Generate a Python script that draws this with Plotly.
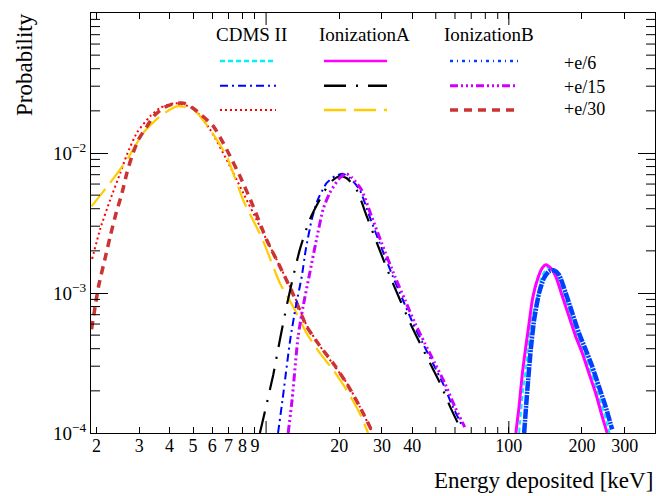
import numpy as np
import plotly.graph_objects as go

FONT = "Liberation Serif"

# ---------------- data: energy deposited [keV] vs probability ----------------
# CDMS II
cdms_e6_E = [110.2, 113.7, 118.7, 123.1, 131.6, 135.8, 144.1, 150.6, 157.9, 168.7, 179.8, 191.3, 203.8, 217.2, 231.2, 246.4, 259.9]
cdms_e6_P = [1.0e-4, 1.82e-4, 3.34e-4, 6.11e-4, 9.46e-4, 1.285e-3, 1.51e-3, 1.49e-3, 1.33e-3, 9.57e-4, 6.89e-4, 4.95e-4, 3.73e-4, 2.79e-4, 2.0e-4, 1.40e-4, 1.0e-4]

cdms_e15_E = [11.2, 11.69, 12.57, 13.26, 14.03, 14.57, 15.42, 16.32, 17.77, 19.17, 20.68, 22.08, 24.28, 26.69, 29.34, 33.27, 36.57, 40.2, 44.18, 48.57, 53.39, 58.68, 64.5]
cdms_e15_P = [1.0e-4, 1.73e-4, 4.63e-4, 8.02e-4, 1.315e-3, 2.04e-3, 3.34e-3, 4.63e-3, 6.11e-3, 6.81e-3, 7.11e-3, 6.67e-3, 5.47e-3, 3.52e-3, 2.28e-3, 1.315e-3, 8.95e-4, 6.11e-4, 4.39e-4, 3.16e-4, 2.28e-4, 1.55e-4, 1.11e-4]

cdms_e30_E = [1.92, 2.08, 2.28, 2.51, 2.67, 2.94, 3.33, 3.66, 4.22, 5.02, 5.88, 6.88, 8.05, 9.43, 11.05, 12.92, 14.67, 16.63, 18.87, 21.41, 24.28, 27.1]
cdms_e30_P = [1.75e-3, 2.92e-3, 4.63e-3, 7.22e-3, 9.72e-3, 1.40e-2, 1.83e-2, 2.10e-2, 2.27e-2, 2.08e-2, 1.47e-2, 8.95e-3, 5.18e-3, 2.99e-3, 1.73e-3, 1.0e-3, 5.9e-4, 4.2e-4, 3.1e-4, 2.3e-4, 1.55e-4, 1.05e-4]

# IonizationA
ionA_e6_E = [106.9, 110.2, 113.7, 117.5, 121.2, 125.0, 131.1, 137.4, 141.9, 148.8, 156.0, 166.1, 176.9, 188.5, 200.6, 213.7, 227.8, 242.3, 254.1]
ionA_e6_P = [1.0e-4, 1.55e-4, 2.68e-4, 4.16e-4, 6.11e-4, 8.95e-4, 1.245e-3, 1.51e-3, 1.59e-3, 1.51e-3, 1.315e-3, 9.46e-4, 6.81e-4, 4.90e-4, 3.73e-4, 2.68e-4, 1.93e-4, 1.315e-4, 1.0e-4]

ionA_e15_E = [9.43, 10.0, 10.7, 11.39, 12.14, 12.92, 13.77, 15.13, 16.63, 18.28, 20.1, 21.5, 23.6, 26.0, 28.6, 32.4, 35.6, 39.2, 43.0, 47.3, 52.0, 57.2, 62.8]
ionA_e15_P = [1.0e-4, 1.55e-4, 2.6e-4, 4.6e-4, 8.0e-4, 1.3e-3, 2.04e-3, 3.34e-3, 4.63e-3, 6.11e-3, 6.85e-3, 6.6e-3, 5.47e-3, 3.52e-3, 2.28e-3, 1.315e-3, 8.95e-4, 6.11e-4, 4.39e-4, 3.16e-4, 2.28e-4, 1.55e-4, 1.1e-4]

ionA_e30_E = [1.91, 2.28, 2.67, 3.13, 3.66, 4.29, 5.02, 5.88, 6.88, 8.05, 9.43, 10.05, 11.39, 12.92, 14.67, 16.63, 18.87, 21.41, 24.28, 26.3]
ionA_e30_P = [4.16e-3, 6.14e-3, 8.95e-3, 1.40e-2, 1.83e-2, 2.155e-2, 2.04e-2, 1.47e-2, 9.46e-3, 4.6e-3, 2.65e-3, 2.04e-3, 1.18e-3, 8.0e-4, 5.18e-4, 3.73e-4, 2.83e-4, 2.04e-4, 1.39e-4, 1.0e-4]

# IonizationB
ionB_e6_E = [115.6, 119.2, 123.1, 127.1, 133.2, 139.6, 146.4, 153.5, 160.9, 171.5, 182.5, 194.4, 207.2, 220.5, 234.9, 250.2, 266.4]
ionB_e6_P = [1.0e-4, 2.04e-4, 3.94e-4, 6.44e-4, 1.0e-3, 1.28e-3, 1.43e-3, 1.45e-3, 1.35e-3, 1.0e-3, 7.2e-4, 5.18e-4, 3.94e-4, 2.99e-4, 2.15e-4, 1.55e-4, 1.06e-4]

ionB_e15_E = [12.33, 12.8, 13.55, 14.21, 15.13, 16.12, 17.16, 18.28, 20.1, 21.41, 22.5, 24.7, 27.2, 29.9, 33.9, 37.3, 41.0, 45.0, 49.5, 54.4, 59.8, 65.8]
ionB_e15_P = [1.0e-4, 1.73e-4, 4.9e-4, 8.02e-4, 1.39e-3, 2.40e-3, 3.94e-3, 5.18e-3, 6.63e-3, 7.11e-3, 6.7e-3, 5.47e-3, 3.52e-3, 2.28e-3, 1.315e-3, 8.95e-4, 6.11e-4, 4.39e-4, 3.16e-4, 2.28e-4, 1.55e-4, 1.1e-4]

ionB_e30_E = [1.91, 2.04, 2.18, 2.28, 2.39, 2.55, 2.67, 2.80, 2.98, 3.23, 3.44, 3.78, 4.16, 4.57, 5.02, 6.07, 6.88, 7.81, 8.85, 10.05, 11.39, 12.92, 14.67, 16.63, 18.87, 21.41, 24.28, 27.1]
ionB_e30_P = [5.5e-4, 1.11e-3, 1.82e-3, 2.54e-3, 3.52e-3, 5.18e-3, 7.19e-3, 9.46e-3, 1.245e-2, 1.55e-2, 1.83e-2, 2.10e-2, 2.25e-2, 2.27e-2, 2.08e-2, 1.55e-2, 1.06e-2, 6.81e-3, 4.16e-3, 2.40e-3, 1.55e-3, 9.8e-4, 5.8e-4, 4.2e-4, 3.16e-4, 2.28e-4, 1.55e-4, 1.06e-4]

column_names = ["CDMS II", "IonizationA", "IonizationB"]
row_names = ["+e/6", "+e/15", "+e/30"]

x_tick_vals = [2, 3, 4, 5, 6, 7, 8, 9, 20, 30, 40, 100, 200, 300]
x_tick_text = ["2", "3", "4", "5", "6", "7", "8", "9", "20", "30", "40", "100", "200", "300"]
x_unlabelled_vals = [50, 60, 70, 80, 90]
x_decade_vals = [10, 100]
y_tick_vals = [1e-4, 1e-3, 1e-2, 1e-1]
y_tick_text = ["10<sup>\u22124</sup>", "10<sup>\u22123</sup>", "10<sup>\u22122</sup>", "10<sup>\u22121</sup>"]
y_minor_vals = [m * 10.0 ** d for d in (-4, -3, -2) for m in range(2, 10)]

# ---------------- styles ----------------
# (E, P, color, dash, width_plot, width_legend, col, row)
series = [
    (cdms_e30_E, cdms_e30_P, "#ff0000", "2px,3px", 2, 2, 0, 2),
    (ionA_e30_E, ionA_e30_P, "#ffcc00", "22px,8px", 2.2, 2.5, 1, 2),
    (ionB_e30_E, ionB_e30_P, "#cc3333", "8px,6px", 3.5, 3.5, 2, 2),
    (cdms_e15_E, cdms_e15_P, "#0000ff", "8px,4px,2px,4px", 2, 2, 0, 1),
    (ionA_e15_E, ionA_e15_P, "#000000", "22px,10px,2px,10px", 2.2, 2.5, 1, 1),
    (ionB_e15_E, ionB_e15_P, "#cc00ff", "8px,3px,2px,3px,2px,3px,2px,3px", 3, 3, 2, 1),
    (cdms_e6_E, cdms_e6_P, "#00f0ff", "5px,3px", 2, 2.5, 0, 0),
    (ionA_e6_E, ionA_e6_P, "#ff00ff", "solid", 3, 2.5, 1, 0),
    (ionB_e6_E, ionB_e6_P, "#0040ff", "10px,1px,2px,1px", 4.5, 2.5, 2, 0),
]
legend_dash_override = {(2, 0): "3px,4px,1px,4px"}

fig = go.Figure()
for E, P, color, dash, wp, wl, c, r in series:
    fig.add_trace(go.Scatter(x=E, y=P, mode="lines",
                             line=dict(color=color, dash=dash, width=wp, shape="spline", smoothing=0.6),
                             showlegend=False, hoverinfo="skip"))

PLOT_W, PLOT_H = 564, 420
X_RANGE = [np.log10(1.9), np.log10(400)]
Y_RANGE = [-4, -1]
axis_common = dict(showline=True, linecolor="black", linewidth=1, showgrid=False,
                   zeroline=False, ticks="inside", tickcolor="black", tickwidth=1,
                   mirror="ticks")
fig.update_layout(
    width=656, height=496,
    margin=dict(l=91, r=1, t=13, b=63),
    paper_bgcolor="white", plot_bgcolor="white",
    showlegend=False,
    xaxis=dict(type="log", range=X_RANGE, tickmode="array",
               tickvals=x_tick_vals, ticktext=x_tick_text,
               ticklen=6, ticklabelstandoff=-4,
               tickfont=dict(family=FONT, size=18, color="black"), **axis_common),
    yaxis=dict(type="log", range=Y_RANGE, tickmode="array", tickvals=y_tick_vals, ticktext=y_tick_text,
               ticklen=17, tickfont=dict(family=FONT, size=19, color="black"),
               **axis_common),
)

# extra (unlabelled) axis ticks, placed from the axis ranges
def xfrac(v):
    return (np.log10(v) - X_RANGE[0]) / (X_RANGE[1] - X_RANGE[0])

def yfrac(v):
    return (np.log10(v) - Y_RANGE[0]) / (Y_RANGE[1] - Y_RANGE[0])

tick_line = dict(color="black", width=1)
for v, L in [(v, 12) for v in x_decade_vals] + [(v, 6) for v in x_unlabelled_vals]:
    xf = xfrac(v)
    fig.add_shape(type="line", xref="paper", yref="paper", x0=xf, x1=xf, y0=0, y1=L / PLOT_H, line=tick_line)
    fig.add_shape(type="line", xref="paper", yref="paper", x0=xf, x1=xf, y0=1, y1=1 - L / PLOT_H, line=tick_line)
for v in y_minor_vals:
    yf = yfrac(v)
    fig.add_shape(type="line", xref="paper", yref="paper", x0=0, x1=9 / PLOT_W, y0=yf, y1=yf, line=tick_line)
    fig.add_shape(type="line", xref="paper", yref="paper", x0=1, x1=1 - 9 / PLOT_W, y0=yf, y1=yf, line=tick_line)

# axis titles
fig.add_annotation(text="Energy deposited [keV]", xref="paper", yref="paper", x=1.0, y=(433 - 480) / 420,
                   xanchor="right", yanchor="middle", showarrow=False,
                   font=dict(family=FONT, size=23, color="black"))
fig.add_annotation(text="Probability", xref="paper", yref="paper", x=(24 - 91) / 564, y=(433 - 65) / 420,
                   xanchor="center", yanchor="middle", textangle=-90, showarrow=False,
                   font=dict(family=FONT, size=23, color="black"))

# legend (ROOT-style grid: columns = models, rows = charge fractions)
def px2x(p):
    return (p - 91) / 564

def py2y(p):
    return (433 - p) / 420

col_sample_x = [(220, 276), (324, 387), (450, 518)]
col_header_x = [251, 364.5, 488.5]
row_y = [61, 85.7, 110]
row_label_y = [63, 86.5, 109]

for i, name in enumerate(column_names):
    fig.add_annotation(text=name, xref="paper", yref="paper", x=px2x(col_header_x[i]), y=py2y(34),
                       xanchor="center", yanchor="middle", showarrow=False,
                       font=dict(family=FONT, size=19, color="black"))
for j, name in enumerate(row_names):
    fig.add_annotation(text=name, xref="paper", yref="paper", x=px2x(562), y=py2y(row_label_y[j]),
                       xanchor="left", yanchor="middle", showarrow=False,
                       font=dict(family=FONT, size=18, color="black"))
for E, P, color, dash, wp, wl, c, r in series:
    d = legend_dash_override.get((c, r), dash)
    x0, x1 = col_sample_x[c]
    fig.add_shape(type="line", xref="paper", yref="paper", x0=px2x(x0), x1=px2x(x1),
                  y0=py2y(row_y[r]), y1=py2y(row_y[r]),
                  line=dict(color=color, dash=d, width=wl))

fig.write_html("out.html")
